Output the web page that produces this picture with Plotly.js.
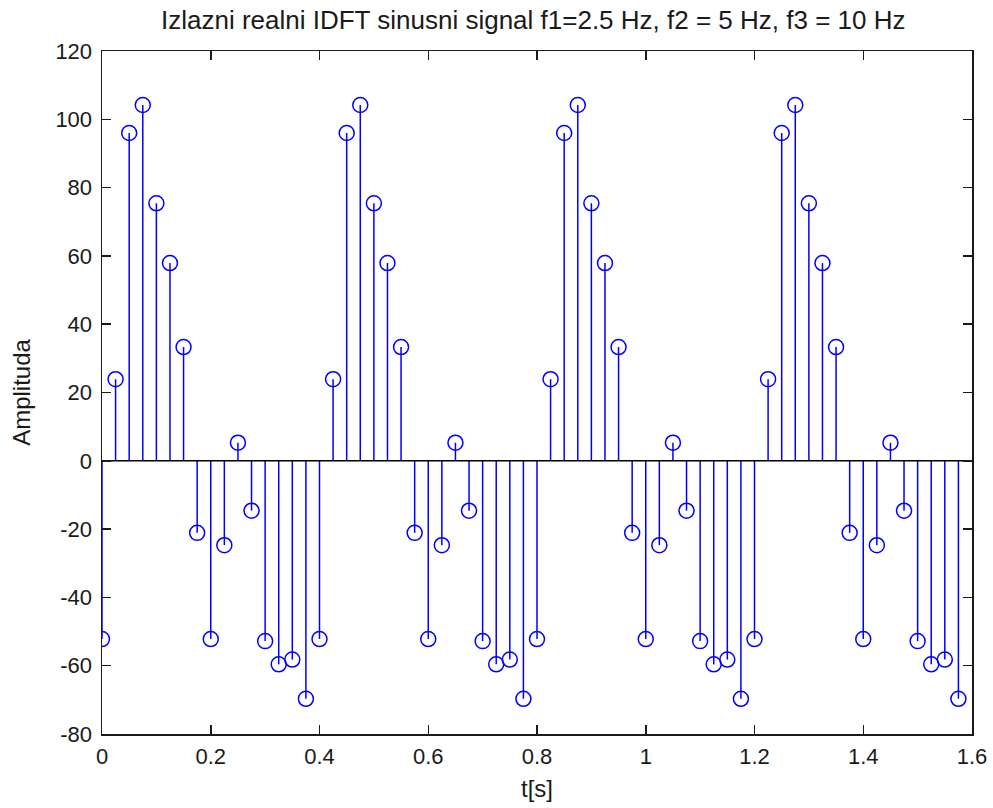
<!DOCTYPE html>
<html>
<head>
<meta charset="utf-8">
<script src="https://cdn.plot.ly/plotly-3.0.1.min.js"></script>
<style>html,body{margin:0;padding:0;background:#fff;}#chart{width:993px;height:808px;}</style>
</head>
<body>
<div id="chart"></div>
<script>
// Sample times (s), step 0.025 s
const tValues = [
  0.000,0.025,0.050,0.075,0.100,0.125,0.150,0.175,0.200,0.225,0.250,0.275,0.300,0.325,0.350,0.375,
  0.400,0.425,0.450,0.475,0.500,0.525,0.550,0.575,0.600,0.625,0.650,0.675,0.700,0.725,0.750,0.775,
  0.800,0.825,0.850,0.875,0.900,0.925,0.950,0.975,1.000,1.025,1.050,1.075,1.100,1.125,1.150,1.175,
  1.200,1.225,1.250,1.275,1.300,1.325,1.350,1.375,1.400,1.425,1.450,1.475,1.500,1.525,1.550,1.575
];
// Amplitudes
const amplitude = [
  -52.2,23.9,96.0,104.2,75.4,57.9,33.3,-21.1,-52.2,-24.7,5.3,-14.6,-52.8,-59.6,-58.2,-69.7,
  -52.2,23.9,96.0,104.2,75.4,57.9,33.3,-21.1,-52.2,-24.7,5.3,-14.6,-52.8,-59.6,-58.2,-69.7,
  -52.2,23.9,96.0,104.2,75.4,57.9,33.3,-21.1,-52.2,-24.7,5.3,-14.6,-52.8,-59.6,-58.2,-69.7,
  -52.2,23.9,96.0,104.2,75.4,57.9,33.3,-21.1,-52.2,-24.7,5.3,-14.6,-52.8,-59.6,-58.2,-69.7
];
const xTicks = [0,0.2,0.4,0.6,0.8,1,1.2,1.4,1.6];
const xTickLabels = ['0','0.2','0.4','0.6','0.8','1','1.2','1.4','1.6'];
const yTicks = [-80,-60,-40,-20,0,20,40,60,80,100,120];
const yTickLabels = ['-80','-60','-40','-20','0','20','40','60','80','100','120'];
const titleText = 'Izlazni realni IDFT sinusni signal f1=2.5 Hz, f2 = 5 Hz, f3 = 10 Hz';
const xLabel = 't[s]';
const yLabel = 'Amplituda';

const stemX = [], stemY = [];
tValues.forEach((t, i) => { stemX.push(t, t, null); stemY.push(0, amplitude[i], null); });

const font = 'Liberation Sans, Arial, sans-serif';
const traces = [
  {x: stemX, y: stemY, mode: 'lines', line: {color: '#0000ff', width: 1.5}, hoverinfo: 'skip', showlegend: false},
  {x: [0, 1.6], y: [0, 0], mode: 'lines', line: {color: '#000000', width: 1.5}, hoverinfo: 'skip', showlegend: false},
  {x: tValues, y: amplitude, mode: 'markers', marker: {symbol: 'circle-open', size: 15, color: '#0000ff', line: {width: 1.5, color: '#0000ff'}}, showlegend: false}
];
const axisCommon = {
  showgrid: false, zeroline: false, showline: true, mirror: 'ticks',
  linecolor: '#1a1a1a', linewidth: 1.5, ticks: 'inside', ticklen: 9, tickwidth: 1.5, tickcolor: '#1a1a1a',
  tickfont: {family: font, size: 22, color: '#1a1a1a'}
};
const layout = {
  width: 993, height: 808,
  margin: {l: 102, r: 21, t: 51, b: 74},
  paper_bgcolor: '#fff', plot_bgcolor: '#fff',
  title: {text: titleText, font: {family: font, size: 26, color: '#1a1a1a'}, x: 0.537, xanchor: 'center', yref: 'container', y: 0.975, yanchor: 'middle'},
  xaxis: Object.assign({}, axisCommon, {range: [0, 1.6], tickvals: xTicks, ticktext: xTickLabels, ticklabelstandoff: 2,
    title: {text: xLabel, font: {family: font, size: 24, color: '#1a1a1a'}, standoff: 12}}),
  yaxis: Object.assign({}, axisCommon, {range: [-80, 120], tickvals: yTicks, ticktext: yTickLabels, ticklabelstandoff: 4,
    title: {text: yLabel, font: {family: font, size: 24, color: '#1a1a1a'}, standoff: 18}})
};
Plotly.newPlot('chart', traces, layout, {staticPlot: true, displayModeBar: false});
</script>
</body>
</html>
